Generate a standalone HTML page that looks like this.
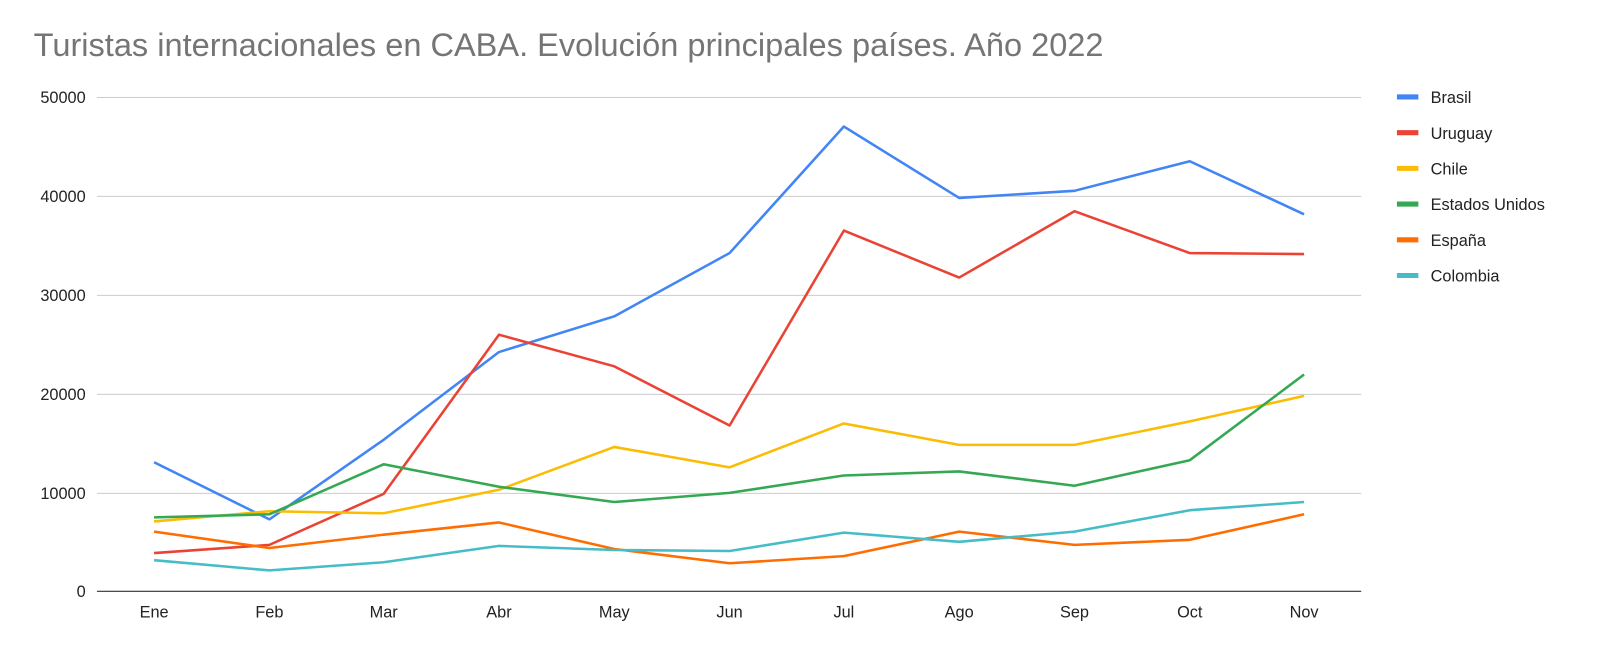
<!DOCTYPE html>
<html><head><meta charset="utf-8"><style>
body{margin:0;background:#fff;}
svg text{font-family:"Liberation Sans",Arial,sans-serif;}
</style></head><body>
<svg width="1600" height="654" xmlns="http://www.w3.org/2000/svg">
<rect width="1600" height="654" fill="#fff"/>
<g transform="scale(1.0204)">
<text x="33" y="55" font-size="31.9" fill="#757575">Turistas internacionales en CABA. Evolución principales países. Año 2022</text>
<g stroke="#cccccc" stroke-width="1">
<line x1="95" x2="1334" y1="95.5" y2="95.5"/>
<line x1="95" x2="1334" y1="192.5" y2="192.5"/>
<line x1="95" x2="1334" y1="289.5" y2="289.5"/>
<line x1="95" x2="1334" y1="386.5" y2="386.5"/>
<line x1="95" x2="1334" y1="483.5" y2="483.5"/>
</g>
<line x1="95" x2="1334" y1="579.5" y2="579.5" stroke="#333" stroke-width="1"/>
<g font-size="16" fill="#222" text-anchor="end">
<text x="84" y="101">50000</text>
<text x="84" y="198">40000</text>
<text x="84" y="295">30000</text>
<text x="84" y="392">20000</text>
<text x="84" y="489">10000</text>
<text x="84" y="585">0</text>
</g>
<g font-size="16" fill="#222" text-anchor="middle">
<text x="151" y="605">Ene</text><text x="264" y="605">Feb</text><text x="376" y="605">Mar</text>
<text x="489" y="605">Abr</text><text x="602" y="605">May</text><text x="715" y="605">Jun</text>
<text x="827" y="605">Jul</text><text x="940" y="605">Ago</text><text x="1053" y="605">Sep</text>
<text x="1166" y="605">Oct</text><text x="1278" y="605">Nov</text>
</g>
<g fill="none" stroke-width="2.5" stroke-linejoin="round">
<polyline stroke="#4285f4" points="151,453 264,509 376,431 489,345 602,310 715,248 827,124 940,194 1053,187 1166,158 1278,210"/>
<polyline stroke="#ea4335" points="151,542 264,534 376,484 489,328 602,359 715,417 827,226 940,272 1053,207 1166,248 1278,249"/>
<polyline stroke="#fbbc04" points="151,511 264,501 376,503 489,480 602,438 715,458 827,415 940,436 1053,436 1166,413 1278,388"/>
<polyline stroke="#34a853" points="151,507 264,504 376,455 489,477 602,492 715,483 827,466 940,462 1053,476 1166,451 1278,367"/>
<polyline stroke="#ff6d01" points="151,521 264,537 376,524 489,512 602,538 715,552 827,545 940,521 1053,534 1166,529 1278,504"/>
<polyline stroke="#46bdc6" points="151,549 264,559 376,551 489,535 602,539 715,540 827,522 940,531 1053,521 1166,500 1278,492"/>
</g>
<g stroke-width="5">
<line x1="1369" x2="1390" y1="95" y2="95" stroke="#4285f4"/>
<line x1="1369" x2="1390" y1="130" y2="130" stroke="#ea4335"/>
<line x1="1369" x2="1390" y1="165" y2="165" stroke="#fbbc04"/>
<line x1="1369" x2="1390" y1="200" y2="200" stroke="#34a853"/>
<line x1="1369" x2="1390" y1="235" y2="235" stroke="#ff6d01"/>
<line x1="1369" x2="1390" y1="270" y2="270" stroke="#46bdc6"/>
</g>
<g font-size="16" fill="#222">
<text x="1402" y="101">Brasil</text>
<text x="1402" y="136">Uruguay</text>
<text x="1402" y="171">Chile</text>
<text x="1402" y="206">Estados Unidos</text>
<text x="1402" y="241">España</text>
<text x="1402" y="276">Colombia</text>
</g>
</g>
</svg>
</body></html>
